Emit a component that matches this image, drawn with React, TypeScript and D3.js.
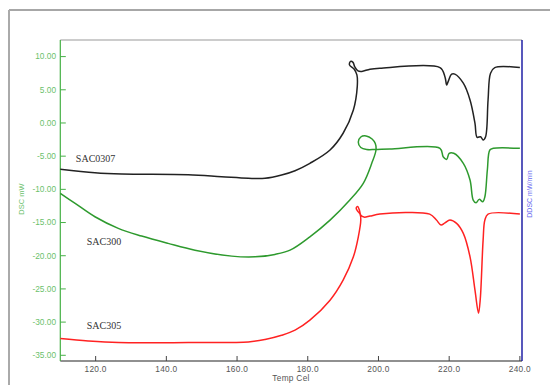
import React from "react";
import * as d3 from "d3";

const xTicks = [120, 140, 160, 180, 200, 220, 240];
const yTicks = [10, 5, 0, -5, -10, -15, -20, -25, -30, -35];

const sac0307Temp = [110, 119.8, 127.4, 146.2, 155.6, 163.2, 167.9, 172.6, 176.4, 180.6, 186.3, 190.0, 192.9, 194.0, 193.9, 193.1, 191.8, 192.1, 192.8, 193.3, 194.2, 195.3, 197.6, 200.4, 217.4, 218.8, 219.3, 219.7, 220.7, 221.6, 224.0, 225.9, 227.3, 227.9, 228.9, 229.6, 230.3, 231.0, 231.7, 232.9, 240.0];
const sac0307Dsc = [-6.98, -7.5, -7.69, -7.8, -8.1, -8.34, -8.34, -7.84, -7.19, -6.08, -4.07, -1.55, 1.96, 5.48, 7.24, 8.14, 8.75, 9.28, 9.13, 8.45, 7.84, 7.77, 8.1, 8.25, 8.34, 6.98, 5.73, 6.23, 7.35, 7.35, 5.99, 3.47, -0.05, -2.16, -2.07, -2.56, -2.07, 3.47, 7.5, 8.34, 8.34];

const sac300Temp = [110, 114.2, 119.8, 126.4, 133.0, 140.5, 148.1, 158.5, 165.1, 170.7, 175.0, 180.6, 186.3, 191.9, 195.7, 198.1, 199.3, 199.1, 198.2, 196.5, 195.0, 194.3, 195.0, 196.7, 199.0, 203.2, 217.4, 218.3, 219.3, 220.0, 221.3, 224.0, 225.9, 226.8, 227.6, 228.5, 229.5, 230.1, 230.8, 231.5, 232.5, 240];
const sac300Dsc = [-10.6, -12.11, -14.13, -15.88, -17.04, -18.14, -19.16, -20.06, -20.17, -19.8, -19.16, -17.15, -14.63, -11.61, -9.09, -6.08, -4.07, -3.09, -2.41, -1.96, -2.11, -2.87, -3.7, -4.0, -4.0, -3.92, -3.82, -5.08, -5.48, -4.57, -4.57, -6.08, -8.6, -11.61, -12.02, -11.51, -11.87, -11.12, -7.09, -4.07, -3.82, -3.82];

const sac305Temp = [110, 117.9, 126.4, 146.2, 163.2, 167.9, 172.6, 176.4, 180.6, 186.3, 190.0, 192.9, 194.3, 195.0, 194.8, 194.1, 193.7, 194.1, 194.6, 195.0, 195.9, 197.6, 200.4, 214.5, 216.4, 217.7, 218.8, 220.2, 222.1, 224.0, 225.9, 227.3, 228.3, 228.8, 229.6, 230.1, 231.0, 240];
const sac305Dsc = [-32.47, -32.84, -33.08, -33.08, -32.99, -32.62, -31.98, -31.22, -29.71, -26.7, -23.68, -20.17, -17.15, -14.63, -13.73, -13.27, -12.82, -12.59, -13.12, -13.88, -14.18, -14.03, -13.73, -13.73, -14.63, -15.38, -15.04, -14.63, -15.13, -16.64, -20.17, -25.19, -28.66, -26.5, -17.65, -14.63, -13.73, -13.73];

const seriesNames = ["SAC0307", "SAC300", "SAC305"];
const seriesLabelTemp = [114.4, 117.5, 117.5];
const seriesLabelDsc = [-5.84, -18.4, -30.97];

export default function App() {
  const left = 60.3, right = 522, top = 40, bottom = 361;
  const x = d3.scaleLinear().domain([110, 240.6]).range([left, right]);
  const y = d3.scaleLinear().domain([-35.86, 12.5]).range([bottom, top]);
  const line = d3
    .line<[number, number]>()
    .x((d) => x(d[0]))
    .y((d) => y(d[1]))
    .curve(d3.curveCatmullRom.alpha(0.5));

  const series = [
    { t: sac0307Temp, v: sac0307Dsc, color: "#222222" },
    { t: sac300Temp, v: sac300Dsc, color: "#2e9a2e" },
    { t: sac305Temp, v: sac305Dsc, color: "#ff2222" },
  ];

  const green = "#45b045";
  const greenText = "#6cbf6c";
  const sans = "Arial, 'Liberation Sans', sans-serif";

  return (
    <svg
      width={550}
      height={385}
      style={{ position: "absolute", left: 0, top: 0, background: "#fff" }}
    >
      <rect x={0} y={0} width={550} height={385} fill="#fff" />
      {/* outer frame */}
      <line x1={9} y1={10} x2={550} y2={10} stroke="#8a8a8a" strokeWidth={1.6} />
      <line x1={9} y1={10} x2={9} y2={385} stroke="#aaaaaa" strokeWidth={2} />

      {/* plot frame */}
      <line x1={left} y1={top} x2={right} y2={top} stroke="#999" strokeWidth={1.2} />
      <line x1={left} y1={bottom} x2={right} y2={bottom} stroke="#222" strokeWidth={1.2} />
      <line x1={left} y1={top} x2={left} y2={bottom} stroke={green} strokeWidth={1.2} />
      <line x1={right} y1={top} x2={right} y2={bottom} stroke="#1010a0" strokeWidth={1.4} />

      {/* y ticks */}
      {yTicks.map((v) => (
        <g key={"y" + v}>
          <line x1={left} x2={left + 5.5} y1={y(v)} y2={y(v)} stroke={green} strokeWidth={1} />
          <text
            x={56}
            y={y(v)}
            dy="0.35em"
            textAnchor="end"
            fontFamily={sans}
            fontSize={8.3}
            fill={greenText}
          >
            {v.toFixed(2)}
          </text>
        </g>
      ))}

      {/* x ticks */}
      {xTicks.map((v) => (
        <g key={"x" + v}>
          <line x1={x(v)} x2={x(v)} y1={bottom} y2={bottom - 5} stroke="#444" strokeWidth={1} />
          <text
            x={x(v)}
            y={371.5}
            textAnchor="middle"
            fontFamily={sans}
            fontSize={8.3}
            fill="#555"
            letterSpacing={0.3}
          >
            {v.toFixed(1)}
          </text>
        </g>
      ))}

      {/* axis titles */}
      <text
        x={291}
        y={380.5}
        textAnchor="middle"
        fontFamily={sans}
        fontSize={8.3}
        letterSpacing={0.3}
        fill="#555"
      >
        Temp Cel
      </text>
      <text
        transform="translate(24,199) rotate(-90)"
        textAnchor="middle"
        fontFamily={sans}
        fontSize={7.5}
        fill={greenText}
      >
        DSC mW
      </text>
      <text
        transform="translate(532,194) rotate(-90)"
        textAnchor="middle"
        fontFamily={sans}
        fontSize={7}
        fill="#6a6af0"
      >
        DDSC mW/min
      </text>

      {/* curves */}
      {series.map((s, i) => (
        <path
          key={"s" + i}
          d={line(s.t.map((t, j) => [t, s.v[j]] as [number, number])) || ""}
          fill="none"
          stroke={s.color}
          strokeWidth={1.5}
          strokeLinejoin="round"
        />
      ))}

      {/* series labels */}
      {seriesNames.map((n, i) => (
        <text
          key={n}
          x={x(seriesLabelTemp[i])}
          y={y(seriesLabelDsc[i])}
          fontFamily="'Liberation Serif', 'Times New Roman', serif"
          fontSize={10}
          fill="#333"
        >
          {n}
        </text>
      ))}
    </svg>
  );
}
